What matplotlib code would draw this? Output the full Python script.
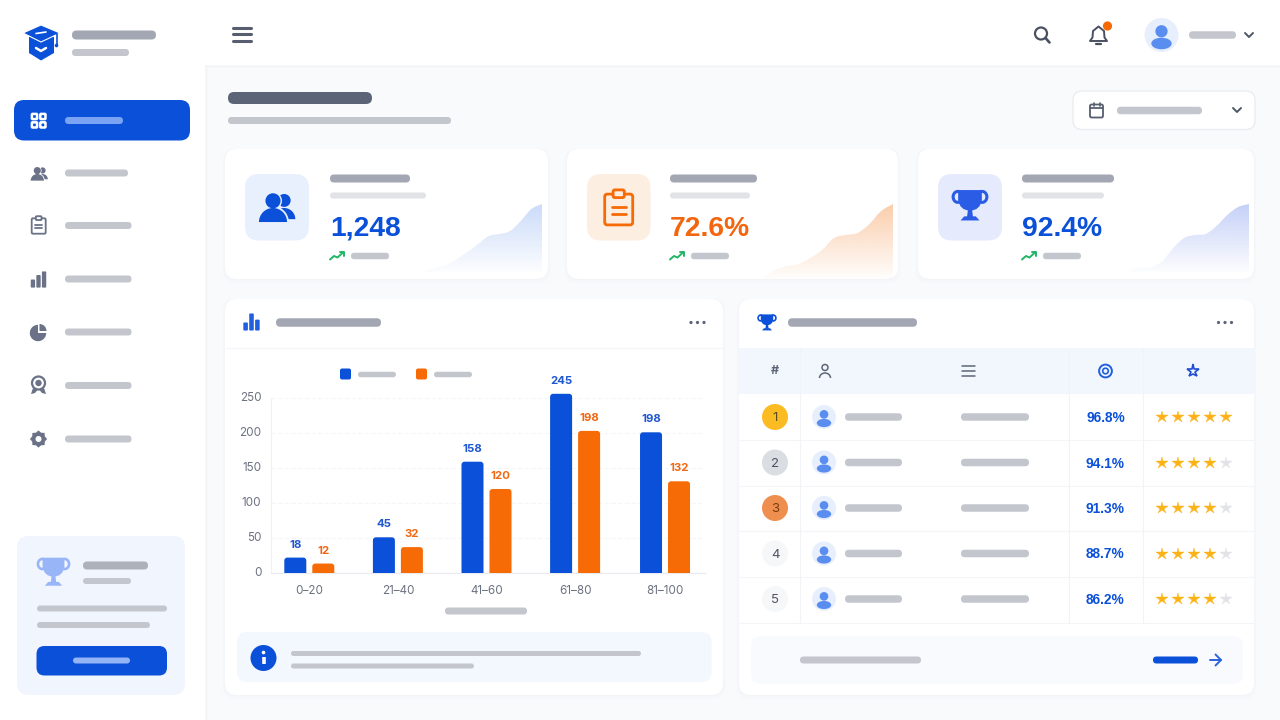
"""dashboard with score distribution chart"""
import numpy as np
import matplotlib
matplotlib.use('Agg')
import matplotlib.pyplot as plt
from matplotlib.patches import Circle, Ellipse, FancyBboxPatch, Polygon, Wedge, Arc, PathPatch
from matplotlib.path import Path
from matplotlib.transforms import ScaledTranslation

plt.rcParams['font.family'] = ['Inter', 'DejaVu Sans']

BLUE = '#0b50d8'
ORANGE = '#f76b07'
PILL = '#c3c6cd'
PILL_DARK = '#a3a7b3'
ICON = '#6b7287'
TEXT = '#6b7280'

# chart data
ranges = ['0–20', '21–40', '41–60', '61–80', '81–100']
blue_heights = [22, 51, 159, 256, 201]
orange_heights = [13.5, 37, 120, 203, 131]
blue_labels = ['18', '45', '158', '245', '198']
orange_labels = ['12', '32', '120', '198', '132']
y_ticks = [0, 50, 100, 150, 200, 250]

# stat cards
stat_values = ['1,248', '72.6%', '92.4%']
spark_users = [2, 4, 7, 13, 20, 28, 36, 38, 41, 51, 63, 68]
spark_tasks = [1, 9, 13, 15, 21, 29, 41, 44, 46, 55, 68, 75]
spark_wins = [2, 4, 5, 11, 24, 34, 37, 38, 46, 57, 65, 68]

# leaderboard
ranks = ['1', '2', '3', '4', '5']
scores = ['96.8%', '94.1%', '91.3%', '88.7%', '86.2%']
ratings = [5, 4, 4, 4, 4]

fig = plt.figure(figsize=(12.8, 7.2), dpi=100, facecolor='#f8fafc')
ax = fig.add_axes([0, 0, 1, 1])
ax.set_xlim(0, 1280)
ax.set_ylim(720, 0)
ax.axis('off')


def box(x0, y0, x1, y1, r, color, ec='none', lw=0, z=2):
    p = FancyBboxPatch((x0 + r, y0 + r), x1 - x0 - 2 * r, y1 - y0 - 2 * r,
                       boxstyle='round,pad=%f,rounding_size=%f' % (r, r),
                       fc=color, ec=ec, lw=lw, zorder=z)
    ax.add_patch(p)
    return p


def pill(x0, x1, y, h, color=PILL, z=4):
    box(x0, y - h / 2, x1, y + h / 2, h / 2, color, z=z)


def card(x0, y0, x1, y1, r=12):
    for grow, col in ((5, '#f7f9fb'), (3, '#f5f7fa'), (1, '#f2f4f8')):
        box(x0 - grow / 2, y0, x1 + grow / 2, y1 + grow, r, col, z=1)
    box(x0, y0, x1, y1, r, 'white', z=2)


def line(xs, ys, color, lw=1.0, z=3, cap='round'):
    ax.plot(xs, ys, color=color, lw=lw, zorder=z, solid_capstyle=cap, solid_joinstyle='round')


def circle(x, y, r, color, ec='none', lw=0, z=5):
    ax.add_patch(Circle((x, y), r, fc=color, ec=ec, lw=lw, zorder=z))


def person(x, y, s, color, bg=None):
    if bg:
        circle(x, y, s, bg, z=4)
    circle(x, y - 0.22 * s, 0.36 * s, color)
    ax.add_patch(Ellipse((x, y + 0.5 * s), 1.2 * s, 0.68 * s, fc=color, zorder=5))


def people(x, y, s, color, bg='white'):
    circle(x + 0.42 * s, y - 0.42 * s, 0.36 * s, color)
    ax.add_patch(Wedge((x + 0.42 * s, y + 0.62 * s), 0.62 * s, 180, 360, fc=color, zorder=5))
    circle(x - 0.2 * s, y - 0.4 * s, 0.5 * s, bg)
    ax.add_patch(Wedge((x - 0.2 * s, y + 0.78 * s), 0.88 * s, 180, 360, fc=bg, zorder=5))
    circle(x - 0.2 * s, y - 0.4 * s, 0.42 * s, color, z=6)
    ax.add_patch(Wedge((x - 0.2 * s, y + 0.78 * s), 0.78 * s, 180, 360, fc=color, zorder=6))


def clipboard(x, y, s, color, lw=2.0, bg='white'):
    box(x - s, y - 1.1 * s, x + s, y + 1.1 * s, 0.18 * s, 'none', ec=color, lw=lw, z=5)
    box(x - 0.4 * s, y - 1.4 * s, x + 0.4 * s, y - 0.85 * s, 0.12 * s, bg, ec=color, lw=lw, z=6)
    line([x - 0.5 * s, x + 0.5 * s], [y - 0.2 * s] * 2, color, lw, z=6)
    line([x - 0.5 * s, x + 0.5 * s], [y + 0.33 * s] * 2, color, lw, z=6)


def trophy(x, y, s, color, lw=2.0):
    codes = [Path.MOVETO, Path.LINETO, Path.LINETO, Path.CURVE3, Path.CURVE3, Path.CURVE3, Path.CURVE3, Path.CLOSEPOLY]
    verts = [(-0.78, -0.95), (0.78, -0.95), (0.78, -0.3), (0.66, 0.4), (0.0, 0.4),
             (-0.66, 0.4), (-0.78, -0.3), (-0.78, -0.95)]
    pts = [(x + a * s, y + b * s) for a, b in verts]
    ax.add_patch(PathPatch(Path(pts, codes), fc=color, ec='none', zorder=5))
    ax.add_patch(Arc((x - 0.8 * s, y - 0.5 * s), 0.62 * s, 0.72 * s, theta1=50, theta2=300, ec=color, lw=lw, zorder=5))
    ax.add_patch(Arc((x + 0.8 * s, y - 0.5 * s), 0.62 * s, 0.72 * s, theta1=-120, theta2=130, ec=color, lw=lw, zorder=5))
    ax.add_patch(Polygon([(x - 0.13 * s, y + 0.3 * s), (x + 0.13 * s, y + 0.3 * s),
                          (x + 0.2 * s, y + 0.85 * s), (x - 0.2 * s, y + 0.85 * s)], fc=color, zorder=5))
    ax.add_patch(Polygon([(x - 0.38 * s, y + 0.78 * s), (x + 0.38 * s, y + 0.78 * s),
                          (x + 0.62 * s, y + 1.05 * s), (x - 0.62 * s, y + 1.05 * s)], fc=color, zorder=5))


def trend(x, y):
    line([x, x + 4, x + 7.5, x + 13], [y + 3.5, y, y + 1.5, y - 3.5], '#22b566', 1.4, z=5)
    line([x + 9.5, x + 13.5, x + 13.5], [y - 4, y - 4, y - 0.5], '#22b566', 1.4, z=5)


def chevron(x, y, color='#4b5563'):
    line([x - 4, x, x + 4], [y - 2, y + 2, y - 2], color, 1.4, z=5)


def dots(x, y):
    for dx in (-6.5, 0, 6.5):
        circle(x + dx, y, 1.6, '#5b6478')


def bars_icon(x, y, s, color, tops):
    for dx, top in zip((-0.62, 0, 0.62), tops):
        box(x + (dx - 0.24) * s, y + top * s, x + (dx + 0.24) * s, y + 0.9 * s, 0.1 * s, color, z=5)


def star_row(y, filled):
    xs = [1162.3, 1178.3, 1194, 1210, 1225.7]
    for i, sx in enumerate(xs):
        col = '#fbb216' if i < filled else '#e1e3e7'
        ax.plot([sx], [y], marker='*', ms=8.6, mfc=col, mec=col, mew=0.3, zorder=5)


def smooth_path(xs, ys, base):
    # bezier through the read points, closed along the base line
    verts = [(xs[0], base), (xs[0], ys[0])]
    codes = [Path.MOVETO, Path.LINETO]
    n = len(xs)
    for i in range(n - 1):
        a = i - 1 if i > 0 else 0
        d = i + 2 if i + 2 < n else n - 1
        verts.append((xs[i] + (xs[i + 1] - xs[a]) / 6, ys[i] + (ys[i + 1] - ys[a]) / 6))
        verts.append((xs[i + 1] - (xs[d] - xs[i]) / 6, ys[i + 1] - (ys[d] - ys[i]) / 6))
        verts.append((xs[i + 1], ys[i + 1]))
        codes += [Path.CURVE4] * 3
    verts += [(xs[-1], base), (xs[0], base)]
    codes += [Path.LINETO, Path.CLOSEPOLY]
    return Path(verts, codes)


def spark(x0, x1, bottom, values, rgb, alpha):
    top = max(values)
    sp = fig.add_axes([x0 / 1280, 1 - bottom / 720, (x1 - x0) / 1280, top / 720])
    sp.set_xlim(0, len(values) - 1)
    sp.set_ylim(0, top)
    sp.axis('off')
    grad = np.zeros((64, 2, 4))
    grad[..., :3] = matplotlib.colors.to_rgb(rgb)
    grad[..., 3] = np.linspace(alpha, 0.015, 64)[:, None]
    im = sp.imshow(grad, extent=[0, len(values) - 1, 0, top], aspect='auto', origin='upper', zorder=2)
    patch = PathPatch(smooth_path(list(range(len(values))), values, 0), transform=sp.transData, fc='none', ec='none')
    sp.add_patch(patch)
    im.set_clip_path(patch)


# sidebar and top bar
ax.add_patch(plt.Rectangle((0, 0), 205, 720, fc='white', ec='none', zorder=1))
line([205.5, 205.5], [0, 720], '#f2f4f7', 1.0, z=1)
ax.add_patch(plt.Rectangle((205, 0), 1075, 65, fc='white', ec='none', zorder=1))
line([205, 1280], [65.5, 65.5], '#eff1f4', 0.8, z=1)

# logo
ax.add_patch(Polygon([(29, 37), (29, 53), (41, 60.5), (54, 53), (54, 37)], fc=BLUE, closed=True, zorder=5))
ax.add_patch(Polygon([(23, 33), (41, 25), (60, 33), (41, 42)], fc=BLUE, ec='white', lw=0.8, zorder=6))
line([36, 46], [33.5, 32], 'white', 1.2, z=7)
line([36, 41, 46], [48, 51, 48], 'white', 1.8, z=7)
line([56.5, 56.5], [34, 45], BLUE, 1.2, z=6)
circle(56.5, 45.5, 1.8, BLUE, z=6)
pill(72, 156, 35, 9, PILL_DARK)
pill(72, 129, 52.5, 7)

# menu
box(14, 100, 190, 140.5, 10, BLUE, z=3)
for dx in (-4.2, 4.2):
    for dy in (-4.2, 4.2):
        box(38.7 + dx - 2.6, 120.7 + dy - 2.6, 38.7 + dx + 2.6, 120.7 + dy + 2.6, 0.8, 'none', ec='white', lw=1.8, z=5)
pill(65, 123, 120.5, 7, '#7ba3f3')
pill(65, 128, 173, 7)
for y in (225.5, 279, 332, 385.5, 439):
    pill(65, 131.5, y, 7)
people(39, 174, 8.5, ICON)
clipboard(38.7, 226, 7, ICON, 1.3)
bars_icon(38.5, 279.5, 9, ICON, (0, -0.5, -0.9))
ax.add_patch(Wedge((38, 333), 8.2, 0, 270, fc=ICON, zorder=5))
ax.add_patch(Wedge((39.5, 331), 7, 270, 360, fc=ICON, zorder=5))
circle(38.5, 383, 6.5, 'none', ec=ICON, lw=1.6)
circle(38.5, 383, 3.2, ICON)
ax.add_patch(Polygon([(33, 388), (31, 394), (35, 393), (37.5, 390)], fc=ICON, zorder=5))
ax.add_patch(Polygon([(44, 388), (46, 394), (42, 393), (39.5, 390)], fc=ICON, zorder=5))
teeth = np.linspace(0, 2 * np.pi, 16, endpoint=False)
ax.add_patch(Polygon([(38.5 + (8.6 if i % 2 == 0 else 6.8) * np.cos(a), 439 + (8.6 if i % 2 == 0 else 6.8) * np.sin(a))
                      for i, a in enumerate(teeth)], fc=ICON, zorder=5))
circle(38.5, 439, 3, 'white', z=6)

# sidebar promo
box(17, 536, 185, 695, 12, '#f1f5fe', z=2)
trophy(53.5, 571, 14, '#98b6f7', 1.9)
pill(83, 148, 565.5, 8, '#adb1ba')
pill(83, 131, 581, 6)
pill(37, 167, 608.5, 6)
pill(37, 150, 625, 6)
box(36.5, 646, 167, 675.5, 8, BLUE, z=3)
pill(73, 130, 660.5, 6, '#94b4f6')

# top bar icons
for y in (27.5, 34, 41):
    line([232.5, 250.5], [y, y], '#565e70', 2.2, z=5)
circle(1041, 33.5, 6, 'none', ec='#4a5060', lw=1.6)
line([1045.5, 1049.5], [38, 42.5], '#4a5060', 1.9, z=5)
bell = [(1090, 41), (1092.5, 37.5), (1093, 31), (1098.5, 26.5), (1104, 31), (1104.5, 37.5), (1107, 41)]
ax.add_patch(Polygon(bell, fc='white', ec='#4a5060', lw=1.4, joinstyle='round', zorder=5))
line([1096, 1101], [44, 44], '#4a5060', 1.6, z=5)
circle(1107.5, 26, 4.6, ORANGE, z=6)
person(1161.5, 35, 17, '#5a8df0', '#e7eefc')
pill(1189, 1236, 35, 7.5)
chevron(1249, 35)

# page head
pill(228, 372, 98, 12, '#5c6478')
pill(228, 451, 120.5, 7)
box(1073, 91, 1255, 129.5, 9, 'white', ec='#e9ebf0', lw=0.9, z=2)
box(1090, 104.5, 1103, 117.5, 1.6, 'none', ec='#565e70', lw=1.3, z=5)
line([1090, 1103], [108, 108], '#565e70', 1.3, z=5)
line([1093.5, 1093.5], [103, 105.5], '#565e70', 1.2, z=5)
line([1099.5, 1099.5], [103, 105.5], '#565e70', 1.2, z=5)
pill(1117, 1202, 110.5, 7.5)
chevron(1237, 110)

# stat cards
card(225, 149, 548, 279)
card(567, 149, 898, 279)
card(918, 149, 1254, 279)
box(245, 174, 309, 240.5, 14, '#e9f0fd', z=3)
box(587, 174, 650.5, 240.5, 14, '#fdeee2', z=3)
box(938, 174, 1002, 240.5, 14, '#e5ebfc', z=3)
people(276.6, 208, 18, BLUE, '#e9f0fd')
clipboard(618.7, 209.5, 14, ORANGE, 2.0, '#fdeee2')
trophy(970, 204.5, 15.2, '#2a5ce6', 2.2)

value_colors = [BLUE, '#f2660f', BLUE]
for i, left in enumerate((330, 670, 1022)):
    ax.text(left, 235.7, stat_values[i], color=value_colors[i], fontsize=20.3, fontweight='bold',
            family='Liberation Sans', va='baseline', ha='left', zorder=6)
    trend(left, 256)
    pill(left + 21, left + 59, 256, 6.5)
pill(330, 410, 178.5, 8, PILL_DARK)
pill(330, 426, 195.5, 6, '#e1e3e7')
pill(670, 757, 178.5, 8, PILL_DARK)
pill(670, 750, 195.5, 6, '#e1e3e7')
pill(1022, 1114, 178.5, 8, PILL_DARK)
pill(1022, 1104, 195.5, 6, '#e1e3e7')

# bottom cards
card(225, 299, 723, 695)
card(739, 299, 1254, 695)
bars_icon(251.5, 322, 9.5, '#1f5fe0', (0.05, -0.9, -0.25))
pill(276, 381, 322.5, 8.5, PILL_DARK)
dots(697.5, 322.5)
line([226, 722], [347.5, 347.5], '#f3f5f8', 0.8, z=3)

# legend
box(340, 368.5, 351, 379.5, 2, BLUE, z=4)
pill(358, 396, 374.5, 5.5)
box(416, 368.5, 427, 379.5, 2, ORANGE, z=4)
pill(434, 472, 374.5, 5.5)
pill(445, 527, 611, 7)

# info box
box(237, 632, 711.5, 682, 10, '#f3f7fe', z=3)
circle(263.5, 658, 13, BLUE)
circle(263.5, 652.5, 1.8, 'white', z=6)
line([263.5, 263.5], [657, 664], 'white', 2.6, z=6, cap='butt')
pill(291, 641, 653.5, 5)
pill(291, 474, 666, 5)

# leaderboard
trophy(767, 322, 8, BLUE, 1.2)
pill(788, 917, 322.5, 8.5, PILL_DARK)
dots(1225, 322.5)
ax.add_patch(plt.Rectangle((739, 347.5), 515, 46.5, fc='#f2f7fe', ec='none', zorder=3))
for y in (440, 485.5, 531, 577, 622.5):
    line([739, 1254], [y, y], '#f3f5f8', 0.8, z=3)
for x in (800, 1069, 1142.5):
    line([x, x], [347.5, 622.5], '#f1f3f7', 0.8, z=3)
ax.text(775, 371, '#', color='#5e6675', fontsize=9, fontweight='bold', ha='center', va='center', zorder=5)
circle(825, 367.5, 3, 'none', ec='#5e6675', lw=1.1)
ax.add_patch(Arc((825, 378), 11, 10, theta1=180, theta2=360, ec='#5e6675', lw=1.1, zorder=5))
for y in (366, 371, 375.5):
    line([962, 975], [y, y], '#5e6675', 1.1, z=5)
circle(1105.5, 371, 6.4, 'none', ec='#1f5fe0', lw=1.4)
circle(1105.5, 371, 2.8, 'none', ec='#1f5fe0', lw=1.2)
ax.plot([1192.5], [371], marker='*', ms=9.5, mfc='none', mec='#1f4fd0', mew=1.2, zorder=5)

badge_colors = ['#fbbb23', '#dadde1', '#ee8f50', '#f6f7f9', '#f6f7f9']
badge_text = ['#5c4a1a', '#4b5563', '#7b3a10', '#4b5563', '#4b5563']
row_y = [417, 462.5, 508, 553.5, 599]
for i, y in enumerate(row_y):
    circle(775, y, 13, badge_colors[i])
    ax.text(775, y + 4.4, ranks[i], color=badge_text[i], fontsize=9.5, ha='center', va='baseline', zorder=6)
    person(824, y, 12, '#5a8df0', '#e7eefc')
    pill(845, 902, y, 7.5)
    pill(961, 1029, y, 7.5)
    ax.text(1105.5, y + 5, scores[i], color=BLUE, fontsize=9.9, fontweight='bold', family='Liberation Sans',
            ha='center', va='baseline', zorder=6)
    star_row(y, ratings[i])

box(751, 636, 1243, 684, 10, '#f8fafd', z=3)
pill(800, 921, 660, 7)
pill(1153, 1198, 660, 7, BLUE)
line([1209.5, 1221], [660, 660], '#2a62dc', 1.4, z=5)
line([1215.5, 1221, 1215.5], [654.5, 660, 665.5], '#2a62dc', 1.4, z=5)

# sparklines
spark(425, 542, 272, spark_users, '#2f6fe8', 0.25)
spark(763, 893, 279, spark_tasks, '#f5893a', 0.42)
spark(1130, 1249, 272, spark_wins, '#3d63e6', 0.3)

# bar chart
chart = fig.add_axes([271 / 1280, 1 - 573 / 720, 434 / 1280, 189 / 720])
chart.patch.set_alpha(0)
unit_x = 88.6
unit_y = 0.7
group_x = np.array([0, 1, 2, 3, 4.015])
offset = 14 / unit_x
bar_w = 22 / unit_x
chart.set_xlim(-38.3 / unit_x, 395.7 / unit_x)
chart.set_ylim(0, 270)

for xs, values, labels, col, lab_col in ((group_x - offset, blue_heights, blue_labels, BLUE, '#1f57d0'),
                                         (group_x + offset, orange_heights, orange_labels, ORANGE, '#f2660f')):
    bars = chart.bar(xs, values, bar_w, color=col, zorder=3)
    for rect, label in zip(bars, labels):
        # rounded top, lower corners fall under the axis
        rx, rw, rh = rect.get_x(), rect.get_width(), rect.get_height()
        rect.remove()
        chart.add_patch(FancyBboxPatch((rx, -10), rw, rh + 10,
                                       boxstyle='round,pad=0,rounding_size=%f' % (3 / unit_x),
                                       mutation_aspect=unit_x / unit_y, fc=col, ec='none', zorder=3))
        chart.annotate(label, (rx + rw / 2, rh), xytext=(0, 9.3), textcoords='offset points',
                       ha='center', va='center', color=lab_col, fontsize=8.2, fontweight='bold',
                       annotation_clip=False, zorder=4)

chart.set_yticks(y_ticks)
chart.set_xticks(np.array(group_x))
chart.set_xticklabels(ranges)
chart.tick_params(axis='both', length=0, labelsize=8.4, labelcolor=TEXT)
chart.tick_params(axis='y', pad=7)
chart.tick_params(axis='x', pad=9)
for lab in chart.get_yticklabels():
    lab.set_transform(lab.get_transform() + ScaledTranslation(0, 1.2 / 100, fig.dpi_scale_trans))
chart.grid(axis='y', color='#f5f6f9', lw=0.8, ls=(0, (4, 2)), zorder=0)
chart.set_axisbelow(True)
for side in ('top', 'right'):
    chart.spines[side].set_visible(False)
chart.spines['left'].set_bounds(0, 250)
chart.spines['left'].set_color('#eff1f4')
chart.spines['bottom'].set_color('#e9ebf0')

plt.savefig('out.png', dpi=100)
